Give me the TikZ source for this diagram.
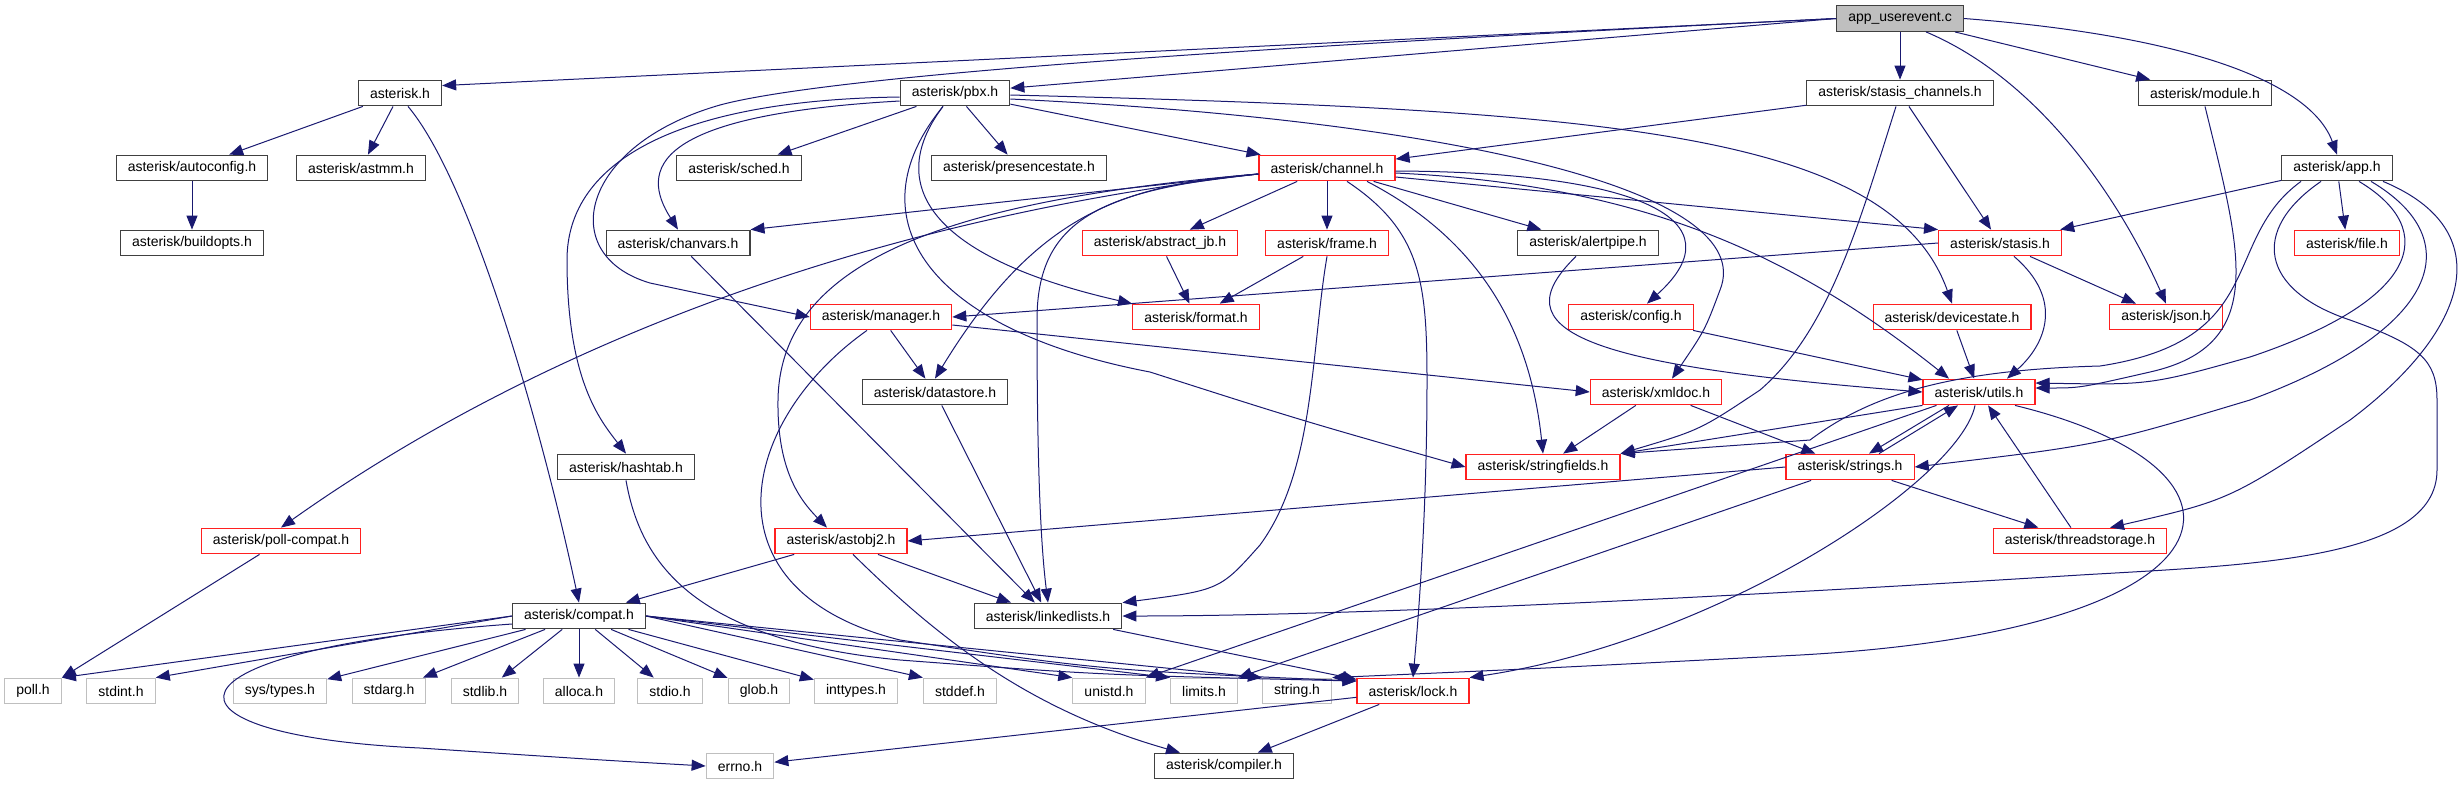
\documentclass[tikz,border=0pt]{standalone}
\usepackage{fontspec}
\setmainfont{Liberation Sans}
\usepackage{tikz}
\usetikzlibrary{arrows.meta}
\definecolor{edgeblue}{HTML}{191970}
\definecolor{boxdark}{HTML}{404040}
\definecolor{boxred}{HTML}{FF2020}
\definecolor{sysgray}{HTML}{BFBFBF}

\begin{document}
\begin{tikzpicture}[x=0.5pt,y=-0.5pt,
    hdr/.style={draw=boxdark,line width=0.6pt,font=\fontsize{7}{8}\selectfont,
      minimum height=12.8pt,inner xsep=5.8pt,inner ysep=0pt},
    trunc/.style={hdr,draw=boxred},
    syshdr/.style={hdr,draw=sysgray},
    dep/.style={draw=edgeblue,line width=0.5pt,-{Triangle[length=7pt,width=5.5pt]}}]
  \useasboundingbox (0,0) rectangle (2464,784);

  % top rows
  \node[hdr,fill=sysgray] (userevent) at (1900,18.5) {app\_userevent.c};
  \node[hdr] (asterisk) at (400,93) {asterisk.h};
  \node[hdr] (pbx) at (955,93) {asterisk/pbx.h};
  \node[hdr] (stchan) at (1900,93) {asterisk/stasis\_channels.h};
  \node[hdr] (module) at (2205,93) {asterisk/module.h};
  \node[hdr] (autoconf) at (192,168) {asterisk/autoconfig.h};
  \node[hdr] (astmm) at (361,168) {asterisk/astmm.h};
  \node[hdr] (sched) at (739,168) {asterisk/sched.h};
  \node[hdr] (presence) at (1019,168) {asterisk/presencestate.h};
  \node[trunc] (channel) at (1327,168) {asterisk/channel.h};
  \node[hdr] (apph) at (2337,168) {asterisk/app.h};
  \node[hdr] (buildopts) at (192,243) {asterisk/buildopts.h};
  \node[hdr] (chanvars) at (678,243) {asterisk/chanvars.h};
  \node[trunc] (abstractjb) at (1160,243) {asterisk/abstract\_jb.h};
  \node[trunc] (frame) at (1327,243) {asterisk/frame.h};
  \node[hdr] (alertpipe) at (1588,243) {asterisk/alertpipe.h};
  \node[trunc] (stasis) at (2000,243) {asterisk/stasis.h};
  \node[trunc] (file) at (2347,243) {asterisk/file.h};
  \node[trunc] (manager) at (881,317) {asterisk/manager.h};
  \node[trunc] (format) at (1196,317) {asterisk/format.h};
  \node[trunc] (config) at (1631,317) {asterisk/config.h};
  \node[trunc] (devstate) at (1952,317) {asterisk/devicestate.h};
  \node[trunc] (json) at (2166,317) {asterisk/json.h};
  \node[hdr] (datastore) at (935,392) {asterisk/datastore.h};
  \node[trunc] (xmldoc) at (1656,392) {asterisk/xmldoc.h};
  \node[trunc] (utils) at (1979,392) {asterisk/utils.h};
  \node[hdr] (hashtab) at (626,467) {asterisk/hashtab.h};
  \node[trunc] (stringfields) at (1543,467) {asterisk/stringfields.h};
  \node[trunc] (strings) at (1850,467) {asterisk/strings.h};
  \node[trunc] (pollcompat) at (281,541) {asterisk/poll-compat.h};
  \node[trunc] (astobj2) at (841,541) {asterisk/astobj2.h};
  \node[trunc] (threadstorage) at (2080,541) {asterisk/threadstorage.h};
  \node[hdr] (compat) at (579,616) {asterisk/compat.h};
  \node[hdr] (linkedlists) at (1048,616) {asterisk/linkedlists.h};
  \node[trunc] (lock) at (1413,691) {asterisk/lock.h};
  \node[hdr] (compiler) at (1224,766) {asterisk/compiler.h};

  % system headers
  \foreach \n/\x/\t in {poll/33/poll.h,stdint/121/stdint.h,systypes/280/{sys/types.h},
      stdarg/389/stdarg.h,stdlib/485/stdlib.h,alloca/579/alloca.h,stdio/670/stdio.h,
      glob/759/glob.h,inttypes/856/inttypes.h,stddef/960/stddef.h,unistd/1109/unistd.h,
      limits/1204/limits.h,string/1297/string.h}
    \node[syshdr] (\n) at (\x,691) {\t};
  \node[syshdr] (errno) at (740,766) {errno.h};

  % app_userevent.c
  \draw[dep] (userevent.west) -- (asterisk.10);
  \draw[dep] (userevent.west) -- (pbx.5);
  \draw[dep] (userevent.west) .. controls (1400,40) and (850,70) .. (720,105)
    .. controls (580,145) and (555,255) .. (650,283) -- (manager.west);
  \draw[dep] (userevent) -- (stchan);
  \draw[dep] (userevent) -- (module);
  \draw[dep] ([xshift=13pt]userevent.south) .. controls (2040,80) and (2120,200) .. (json.north);
  \draw[dep] (userevent.east) .. controls (2180,35) and (2310,80) .. (apph.north);

  % asterisk.h
  \draw[dep] (asterisk) -- (autoconf);
  \draw[dep] (asterisk) -- (astmm);
  \draw[dep] ([xshift=4pt]asterisk.south) .. controls (470,180) and (540,420) .. (compat.north);
  \draw[dep] (autoconf) -- (buildopts);

  % pbx.h
  \draw[dep] (pbx) -- (sched);
  \draw[dep] (pbx) -- (presence);
  \draw[dep] (pbx) -- (channel);
  \draw[dep] ([yshift=-4pt]pbx.west) .. controls (650,115) and (640,170) .. (chanvars.north);
  \draw[dep] ([yshift=-2pt]pbx.west) .. controls (680,100) and (567,160) .. (567,260)
    .. controls (567,380) and (600,420) .. (hashtab.north);
  \draw[dep] ([xshift=-6pt]pbx.south) .. controls (880,190) and (940,260) .. (format.north west);
  \draw[dep] ([xshift=-6pt]pbx.south) .. controls (850,220) and (930,330) .. (1150,372)
    .. controls (1300,420) .. (stringfields.west);
  \draw[dep] ([yshift=-1pt]pbx.east) .. controls (1600,110) and (1890,130) .. (devstate.north);
  \draw[dep] ([yshift=-3pt]pbx.east) .. controls (1450,120) and (1760,190) .. (1720,290)
    .. controls (1705,330) .. ([xshift=8pt]xmldoc.north);

  % stasis_channels.h
  \draw[dep] (stchan) -- (channel);
  \draw[dep] (stchan) -- (stasis);
  \draw[dep] ([xshift=-2pt]stchan.south) .. controls (1860,220) and (1830,330) .. (1760,390)
    .. controls (1700,430) .. (stringfields.north east);

  % channel.h
  \draw[dep] (channel) -- (abstractjb);
  \draw[dep] (channel) -- (frame);
  \draw[dep] (channel) -- (alertpipe);
  \draw[dep] ([yshift=-3pt]channel.west) -- (chanvars.north east);
  \draw[dep] ([yshift=-3pt]channel.west) .. controls (900,215) and (560,330) .. (pollcompat.north);
  \draw[dep] ([yshift=-3pt]channel.west) .. controls (950,200) and (780,260) .. (778,400)
    .. controls (777,470) and (800,500) .. ([xshift=-7pt]astobj2.north);
  \draw[dep] ([yshift=-3pt]channel.west) .. controls (1120,185) and (1035,215) .. (datastore.north);
  \draw[dep] ([yshift=-3pt]channel.west) .. controls (1100,190) and (1037,220) .. (1037,320)
    .. controls (1037,450) and (1040,540) .. (linkedlists.north);
  \draw[dep] ([xshift=10pt]channel.south) .. controls (1420,230) and (1427,280) .. (1427,380)
    .. controls (1427,500) and (1420,600) .. (lock.north);
  \draw[dep] ([xshift=20pt]channel.south) .. controls (1480,240) and (1530,330) .. (stringfields.north);
  \draw[dep] ([yshift=-1.5pt]channel.east) .. controls (1640,172) and (1740,220) .. ([xshift=8pt]config.north);
  \draw[dep] ([yshift=-2.5pt]channel.east) .. controls (1650,185) and (1800,260) .. ([xshift=-15pt]utils.north);
  \draw[dep] ([yshift=-4.5pt]channel.east) -- (stasis.north west);

  % abstract_jb.h, frame.h
  \draw[dep] (abstractjb) -- (format);
  \draw[dep] (frame) -- (format);
  \draw[dep] (frame.south) .. controls (1311,350) and (1315,470) .. (1260,545)
    .. controls (1220,590) .. (linkedlists.north east);

  % alertpipe.h, config.h, devicestate.h
  \draw[dep] ([xshift=-6pt]alertpipe.south) .. controls (1500,330) and (1580,365) .. (utils.west);
  \draw[dep] (config) -- (utils);
  \draw[dep] (devstate) -- (utils);

  % stasis.h
  \draw[dep] (stasis.west) -- (manager.east);
  \draw[dep] (stasis) -- (json);
  \draw[dep] ([xshift=7pt]stasis.south) .. controls (2065,300) and (2045,345) .. ([xshift=14pt]utils.north);

  % app.h
  \draw[dep] (apph) -- (stasis);
  \draw[dep] (apph) -- (file);
  \draw[dep] ([xshift=-18pt]apph.south) .. controls (2220,240) and (2270,340) .. (2100,366)
    .. controls (1950,370) and (1870,395) .. (1810,440) -- (stringfields.north east);
  \draw[dep] ([xshift=-8pt]apph.south) .. controls (2250,230) and (2260,290) .. (2350,320)
    .. controls (2420,345) and (2437,360) .. (2437,400) -- (2437,470)
    .. controls (2437,560) and (2250,565) .. (2080,575)
    .. controls (1600,605) and (1300,616) .. (linkedlists.east);
  \draw[dep] ([xshift=11pt]apph.south) .. controls (2440,230) and (2420,300) .. (2250,357)
    .. controls (2150,385) .. ([yshift=4.5pt]utils.east);
  \draw[dep] ([xshift=17pt]apph.south) .. controls (2470,240) and (2440,330) .. (2250,400)
    .. controls (2100,445) .. (strings.east);
  \draw[dep] ([xshift=23pt]apph.south) .. controls (2500,230) and (2470,330) .. (2350,420)
    .. controls (2230,500) .. ([xshift=15pt]threadstorage.north);

  % module.h
  \draw[dep] (module.south) .. controls (2240,250) and (2270,345) .. (2150,372)
    .. controls (2080,388) .. ([yshift=2pt]utils.east);

  % manager.h
  \draw[dep] (manager) -- (datastore);
  \draw[dep] ([yshift=-4pt]manager.east) -- (xmldoc.west);
  \draw[dep] ([xshift=-7pt]manager.south) .. controls (740,420) and (700,590) .. (900,640)
    .. controls (1100,670) .. (lock.170);

  % hashtab.h
  \draw[dep] (hashtab.south) .. controls (640,560) and (690,640) .. (900,660)
    .. controls (1100,675) .. (lock.170);

  % astobj2.h
  \draw[dep] (astobj2) -- (compat);
  \draw[dep] (astobj2) -- (linkedlists);
  \draw[dep] ([xshift=6pt]astobj2.south) .. controls (940,640) and (1030,710) .. ([xshift=-22pt]compiler.north);

  % chanvars.h, datastore.h, linkedlists.h
  \draw[dep] (chanvars) -- (linkedlists);
  \draw[dep] (datastore) -- (linkedlists);
  \draw[dep] (linkedlists) -- (lock);

  % xmldoc.h, utils.h, strings.h, threadstorage.h
  \draw[dep] (xmldoc) -- (stringfields);
  \draw[dep] (xmldoc) -- (strings);
  \draw[dep] ([xshift=-15pt]utils.south) -- ([xshift=9.5pt]strings.north);
  \draw[dep] ([xshift=14.5pt]strings.north) -- ([xshift=-10.5pt]utils.south);
  \draw[dep] (utils.south west) -- (stringfields.north east);
  \draw[dep] ([xshift=7pt]utils.south west) -- (unistd.north east);
  \draw[dep] ([xshift=-2pt]utils.south) .. controls (1960,480) and (1720,640) .. (lock.north east);
  \draw[dep] ([xshift=18pt]utils.south) .. controls (2280,470) and (2250,630) .. (1800,655)
    .. controls (1550,668) .. (string.north east);
  \draw[dep] (strings) -- (threadstorage);
  \draw[dep] (threadstorage) -- (utils);
  \draw[dep] (strings.west) -- (astobj2.east);
  \draw[dep] (strings) -- (limits.north east);

  % compat.h
  \draw[dep] (compat.west) -- (poll.north east);
  \draw[dep] (compat.west) -- (stdint.north east);
  \foreach \t in {systypes,stdarg,stdlib,alloca,stdio,glob,inttypes}
    \draw[dep] (compat) -- (\t);
  \foreach \t in {stddef,unistd,limits,string}
    \draw[dep] (compat.east) -- (\t.north west);
  \draw[dep] ([yshift=-4pt]compat.west) .. controls (150,650) and (140,735) .. (420,748)
    .. controls (600,760) .. (errno.west);

  % lock.h, poll-compat.h
  \draw[dep] (lock) -- (errno);
  \draw[dep] (lock) -- (compiler);
  \draw[dep] (pollcompat) -- (poll.north east);
\end{tikzpicture}
\end{document}
